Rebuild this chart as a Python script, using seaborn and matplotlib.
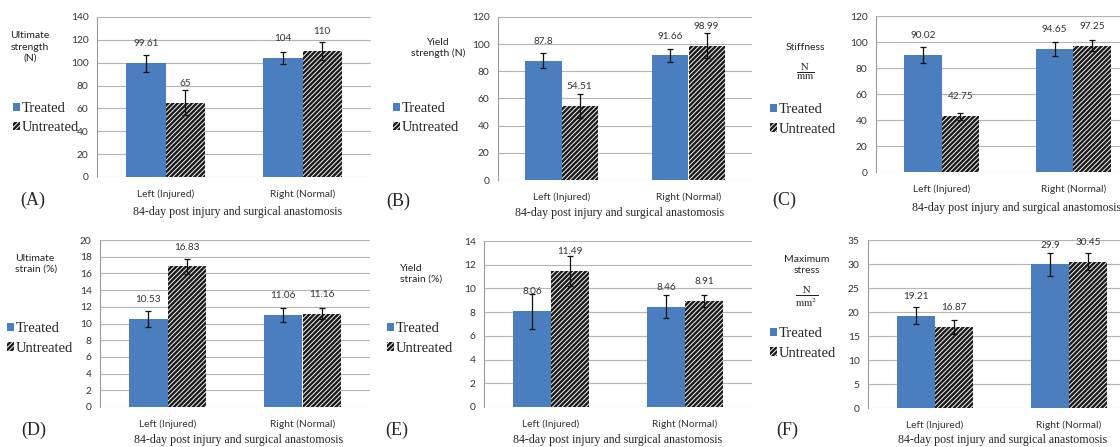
import matplotlib
matplotlib.use("Agg")
import matplotlib.pyplot as plt
from matplotlib.patches import Patch
import seaborn as sns
import pandas as pd

sns.set_style("white")
plt.rcParams['font.family'] = ['Lato', 'DejaVu Sans']
plt.rcParams['hatch.linewidth'] = 1.7
plt.rcParams['mathtext.fontset'] = 'stix'

sides = ['Left (Injured)', 'Right (Normal)']
groups = ['Treated', 'Untreated']

# values and error bars
strength_treated = [99.61, 104.0]
strength_untreated = [65.0, 110.0]
strength_err_treated = [7.5, 5.5]
strength_err_untreated = [11.0, 8.0]

yield_treated = [87.8, 91.66]
yield_untreated = [54.51, 98.99]
yield_err_treated = [5.5, 4.5]
yield_err_untreated = [9.0, 9.0]

stiff_treated = [90.02, 94.65]
stiff_untreated = [42.75, 97.25]
stiff_err_treated = [6.5, 5.5]
stiff_err_untreated = [3.0, 4.0]

ustrain_treated = [10.53, 11.06]
ustrain_untreated = [16.83, 11.16]
ustrain_err_treated = [0.95, 0.85]
ustrain_err_untreated = [0.85, 0.65]

ystrain_treated = [8.06, 8.46]
ystrain_untreated = [11.49, 8.91]
ystrain_err_treated = [1.5, 0.95]
ystrain_err_untreated = [1.25, 0.5]

stress_treated = [19.21, 29.9]
stress_untreated = [16.87, 30.45]
stress_err_treated = [1.75, 2.35]
stress_err_untreated = [1.4, 1.8]

y_max = [140, 120, 120, 20, 14, 35]
y_step = [20, 20, 20, 2, 2, 5]
panel_tags = ['(A)', '(B)', '(C)', '(D)', '(E)', '(F)']
subtitle = '84-day post injury and surgical anastomosis'

panels = [
    (strength_treated, strength_untreated, strength_err_treated, strength_err_untreated),
    (yield_treated, yield_untreated, yield_err_treated, yield_err_untreated),
    (stiff_treated, stiff_untreated, stiff_err_treated, stiff_err_untreated),
    (ustrain_treated, ustrain_untreated, ustrain_err_treated, ustrain_err_untreated),
    (ystrain_treated, ystrain_untreated, ystrain_err_treated, ystrain_err_untreated),
    (stress_treated, stress_untreated, stress_err_treated, stress_err_untreated),
]

W, H = 1120, 447
blue = '#4a7ebf'
hatch = '///////'

# layout in pixels: axes (left, right, top, bottom)
axes_px = [(97, 371, 17, 177), (498, 752, 17, 180), (876, 1139, 16, 172),
           (100, 370, 240, 407), (484, 752, 241, 407), (868, 1136, 240, 408)]
# y label: (text, x, y, ha)
ylab = [('Ultimate\nstrength\n(N)', 30, 47, 'center'),
        ('Yield\nstrength (N)', 438, 48, 'center'),
        ('Stiffness', 805, 48, 'center'),
        ('Ultimate\nstrain (%)', 15, 264, 'left'),
        ('Yield\nstrain (%)', 400, 274, 'left'),
        ('Maximum\nstress', 807, 265, 'center')]
frac = {2: (r'$\frac{\mathrm{N}}{\mathrm{mm}}$', 805, 72),
        5: (r'$\frac{\mathrm{N}}{\mathrm{mm^2}}$', 807, 297)}
legend_px = [(13, 118), (393, 118), (770, 119.5), (7, 338.5), (387, 338.5), (770, 343.5)]
tag_px = [(33, 200), (398, 201), (784, 200), (34, 430), (397, 430), (787, 430)]
sub_px = [(238, 212, 'center'), (620, 213, 'center'), (912, 208, 'left'),
          (239, 440, 'center'), (618, 440, 'center'), (898, 440, 'left')]

fig = plt.figure(figsize=(W / 100, H / 100), dpi=100)


def fx(x):
    return x / W


def fy(y):
    return 1 - y / H


for i, (tr, un, etr, eun) in enumerate(panels):
    l, r, t, b = axes_px[i]
    ax = fig.add_axes([fx(l), fy(b), (r - l) / W, (b - t) / H])
    df = pd.DataFrame({
        'side': sides * 2,
        'group': [groups[0]] * 2 + [groups[1]] * 2,
        'value': list(tr) + list(un),
    })
    sns.barplot(data=df, x='side', y='value', hue='group', hue_order=groups,
                palette={'Treated': blue, 'Untreated': '#f0f0f0'}, width=0.57,
                errorbar=None, legend=False, ax=ax, saturation=1)
    for bar in ax.containers[0]:
        bar.set_edgecolor('none')
        bar.set_linewidth(0)
    for bar in ax.containers[1]:
        bar.set_hatch(hatch)
        bar.set_edgecolor('#1a1a1a')
        bar.set_linewidth(0)
    for cont, errs in zip(ax.containers, [etr, eun]):
        xs = [p.get_x() + p.get_width() / 2 for p in cont]
        ys = [p.get_height() for p in cont]
        ax.errorbar(xs, ys, yerr=errs, fmt='none', ecolor='#111111',
                    elinewidth=0.9, capsize=2.3, capthick=0.9, zorder=5)
        for x, y in zip(xs, ys):
            ax.annotate(f'{y:g}', (x, y), xytext=(0, 14), textcoords='offset points',
                        ha='center', va='center', fontsize=7.2, color='#333333')
    ax.set_xlim(-0.5, 1.5)
    ax.set_ylim(0, y_max[i])
    ax.set_yticks(range(0, y_max[i] + 1, y_step[i]))
    ax.yaxis.grid(True, color='#b4b4b4', linewidth=0.8)
    ax.set_axisbelow(True)
    ax.set_xlabel('')
    ax.set_ylabel('')
    for s in ['top', 'right', 'bottom']:
        ax.spines[s].set_visible(False)
    ax.spines['left'].set_color('#9a9a9a')
    ax.spines['left'].set_linewidth(0.8)
    ax.tick_params(axis='both', length=0, labelsize=7.4, colors='#333333')
    ax.tick_params(axis='x', pad=9)
    ax.tick_params(axis='y', pad=6)

    text, x, y, ha = ylab[i]
    fig.text(fx(x), fy(y), text, ha=ha, va='center', fontsize=7.5,
             color='#222222', multialignment=ha, linespacing=1.3)
    if i in frac:
        ftext, x, y = frac[i]
        fig.text(fx(x), fy(y), ftext, ha='center', va='center', fontsize=11,
                 color='#222222')

    handles = [Patch(facecolor=blue, edgecolor='none'),
               Patch(facecolor='#f0f0f0', edgecolor='#1a1a1a', hatch=hatch, linewidth=0)]
    lx, ly = legend_px[i]
    fig.legend(handles, groups, loc='center left', bbox_to_anchor=(fx(lx), fy(ly)),
               frameon=False, borderpad=0, borderaxespad=0, handlelength=0.5,
               handleheight=0.5, handletextpad=0.1, labelspacing=0.42,
               prop={'family': 'Liberation Serif', 'size': 10.5})

    x, y = tag_px[i]
    fig.text(fx(x), fy(y), panel_tags[i], ha='center', va='center',
             fontsize=13, family='Liberation Serif')
    x, y, ha = sub_px[i]
    fig.text(fx(x), fy(y), subtitle, ha=ha, va='center', fontsize=8.6,
             family='Liberation Serif')

fig.savefig('out.png', dpi=100)
